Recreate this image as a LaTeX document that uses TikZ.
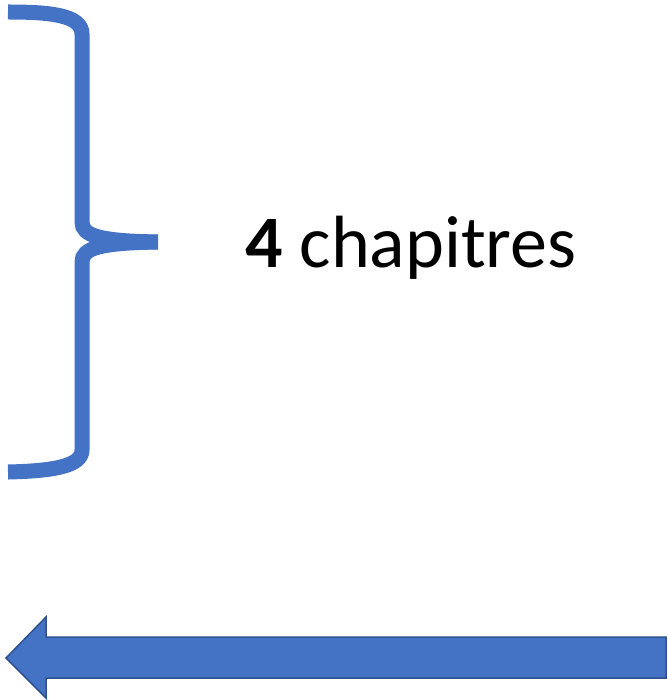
\documentclass[tikz,border=0pt]{standalone}
\usepackage{fontspec}
\setmainfont{Carlito}
\usepackage{tikz}
\definecolor{bracebleu}{HTML}{4472C4}
\definecolor{bordbleu}{HTML}{2F528F}

\begin{document}
\begin{tikzpicture}[x=1pt,y=-1pt, thick]
			\useasboundingbox (0,0) rectangle (667,700);
			% accolade
			\draw [bracebleu, line width=15pt] (8,12) .. controls (50,12) and (82,15) .. (82,34) -- (82,222) .. controls (82,236) and (100,241) .. (158,242);
			\draw [bracebleu, line width=15pt] (158,242) .. controls (100,243) and (82,248) .. (82,262) -- (82,450) .. controls (82,467) and (50,471) .. (8,472);
			\node (chap) at (411,248) {\fontsize{74}{80}\selectfont\textbf{4} chapitres};
			% fleche
			\draw [fill=bracebleu, draw=bordbleu, line width=1.5pt] (666,637) -- (46,637) -- (46,617) -- (6,658) -- (46,698) -- (46,678) -- (666,678) -- cycle;
			\end{tikzpicture}
\end{document}
